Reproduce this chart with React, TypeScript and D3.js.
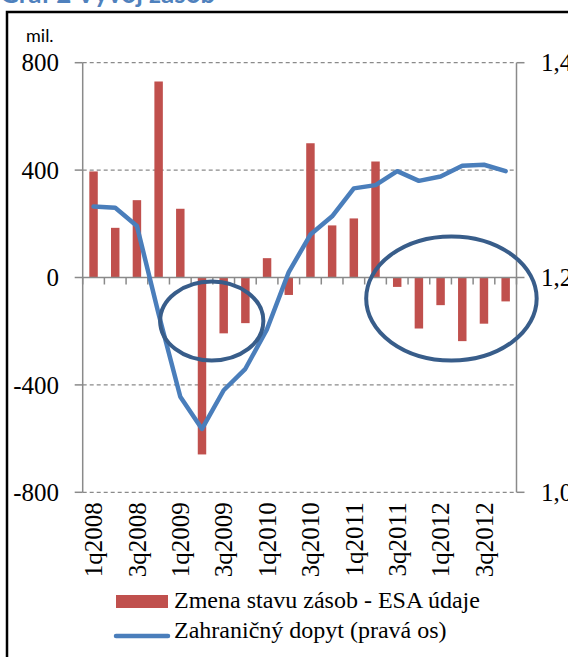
import React from "react";
import * as d3 from "d3";

const quarters = [
  "1q2008", "2q2008", "3q2008", "4q2008",
  "1q2009", "2q2009", "3q2009", "4q2009",
  "1q2010", "2q2010", "3q2010", "4q2010",
  "1q2011", "2q2011", "3q2011", "4q2011",
  "1q2012", "2q2012", "3q2012", "4q2012",
];
const inventoryChange = [395, 185, 288, 730, 256, -659, -208, -170, 72, -65, 500, 194, 220, 432, -35, -190, -103, -237, -172, -89];
const foreignDemand = [1.266, 1.265, 1.248, 1.166, 1.089, 1.059, 1.095, 1.115, 1.152, 1.205, 1.24, 1.257, 1.283, 1.286, 1.299, 1.29, 1.294, 1.304, 1.305, 1.299];
const leftTicks = [-800, -400, 0, 400, 800];
const rightTicks = [1.0, 1.2, 1.4];
const xTickLabels = ["1q2008", "3q2008", "1q2009", "3q2009", "1q2010", "3q2010", "1q2011", "3q2011", "1q2012", "3q2012"];
// annotation ellipses: center in quarter-index / value units, radii in quarters / value units
const ellipses = [
  { ci: 5.45, cv: -162, ri: 2.38, rv: 147 },
  { ci: 16.5, cv: -78, ri: 3.93, rv: 231 },
];
const seriesNames = ["Zmena stavu zásob - ESA údaje", "Zahraničný dopyt (pravá os)"];
const title = "Graf 2 Vývoj zásob";
const unitLabel = "mil.";

const W = 568;
const H = 657;
const left = 82.7;
const right = 516.5;
const top = 62.7;
const bottom = 492.3;

const serif = "Liberation Serif, Times New Roman, DejaVu Serif, serif";
const sans = "Lato, Open Sans, sans-serif";
const gray = "#8a8a8a";

const serifStyle: React.CSSProperties = { fontFamily: serif, fontSize: 25 };
const legendStyle: React.CSSProperties = { fontFamily: serif, fontSize: 24 };

export default function App() {
  const x = d3.scaleBand<string>().domain(quarters).range([left, right]).paddingInner(0.61).paddingOuter(0.305);
  const y = d3.scaleLinear().domain([-800, 800]).range([bottom, top]);
  const y2 = d3.scaleLinear().domain([1.0, 1.4]).range([bottom, top]);
  const bw = x.bandwidth();
  const step = x.step();
  const cx = (q: string) => (x(q) as number) + bw / 2;
  const ci = (i: number) => cx(quarters[0]) + i * step;
  const y0 = y(0);

  const line = d3
    .line<number>()
    .x((_, i) => cx(quarters[i]))
    .y((d) => y2(d));

  const boundaries = d3.range(quarters.length + 1).map((i) => left + (i * (right - left)) / quarters.length);

  return (
    <svg width={W} height={H} style={{ position: "absolute", left: 0, top: 0, background: "#fff" }}>
      <rect x={0} y={0} width={W} height={H} fill="#fff" />
      {/* title */}
      <text x={0} y={3} style={{ fontFamily: sans, fontWeight: 700, fontSize: 26 }} fill="#4F81BD">
        {title}
      </text>
      {/* frame */}
      <rect x={7} y={12} width={W + 20} height={H + 20} fill="none" stroke="#000" strokeWidth={2.5} />

      {/* gridlines */}
      {leftTicks
        .filter((t) => t !== 0)
        .map((t) => (
          <line key={t} x1={left} x2={right} y1={y(t)} y2={y(t)} stroke={gray} strokeWidth={1.3} strokeDasharray="4 3" />
        ))}

      {/* bars */}
      {inventoryChange.map((v, i) => (
        <rect
          key={quarters[i]}
          x={x(quarters[i])}
          width={bw}
          y={Math.min(y(v), y0)}
          height={Math.abs(y(v) - y0)}
          fill="#C0504D"
        />
      ))}

      {/* axes */}
      <line x1={left} x2={left} y1={top} y2={bottom} stroke={gray} strokeWidth={1.5} />
      <line x1={right} x2={right} y1={top} y2={bottom} stroke={gray} strokeWidth={1.5} />
      <line x1={left} x2={right} y1={y0} y2={y0} stroke={gray} strokeWidth={1.5} />
      {boundaries.map((bx, i) => (
        <line key={i} x1={bx} x2={bx} y1={y0} y2={y0 + 7} stroke={gray} strokeWidth={1.5} />
      ))}
      {leftTicks.map((t) => (
        <g key={t}>
          <line x1={left - 8} x2={left} y1={y(t)} y2={y(t)} stroke={gray} strokeWidth={1.5} />
          <text x={59} y={y(t)} dy="0.35em" textAnchor="end" style={serifStyle} fill="#000">
            {d3.format("d")(t).replace("−", "-")}
          </text>
        </g>
      ))}
      {rightTicks.map((t) => (
        <g key={t}>
          <line x1={right} x2={right + 8} y1={y2(t)} y2={y2(t)} stroke={gray} strokeWidth={1.5} />
          <text x={541} y={y2(t)} dy="0.35em" textAnchor="start" style={serifStyle} fill="#000">
            {d3.format(".1f")(t).replace(".", ",")}
          </text>
        </g>
      ))}
      <text x={26} y={41.5} style={{ fontFamily: sans, fontSize: 18 }} fill="#000">
        {unitLabel}
      </text>

      {/* x labels */}
      {xTickLabels.map((q) => (
        <text
          key={q}
          transform={`translate(${cx(q)},${bottom + 10}) rotate(-90)`}
          dy="0.35em"
          textAnchor="end"
          style={serifStyle}
          fill="#000"
        >
          {q}
        </text>
      ))}

      {/* line series */}
      <path d={line(foreignDemand) as string} fill="none" stroke="#4A7EBB" strokeWidth={4.5} strokeLinejoin="round" strokeLinecap="round" />

      {/* annotation ellipses */}
      {ellipses.map((e, i) => (
        <ellipse
          key={i}
          cx={ci(e.ci)}
          cy={y(e.cv)}
          rx={e.ri * step}
          ry={y(0) - y(e.rv)}
          fill="none"
          stroke="#385D8A"
          strokeWidth={4}
        />
      ))}

      {/* legend */}
      <rect x={116} y={595} width={52} height={13} fill="#C0504D" />
      <text x={174} y={608} style={legendStyle} fill="#000">
        {seriesNames[0]}
      </text>
      <line x1={116} x2={168} y1={636} y2={636} stroke="#4A7EBB" strokeWidth={4.5} strokeLinecap="round" />
      <text x={174} y={638} style={legendStyle} fill="#000">
        {seriesNames[1]}
      </text>
    </svg>
  );
}
